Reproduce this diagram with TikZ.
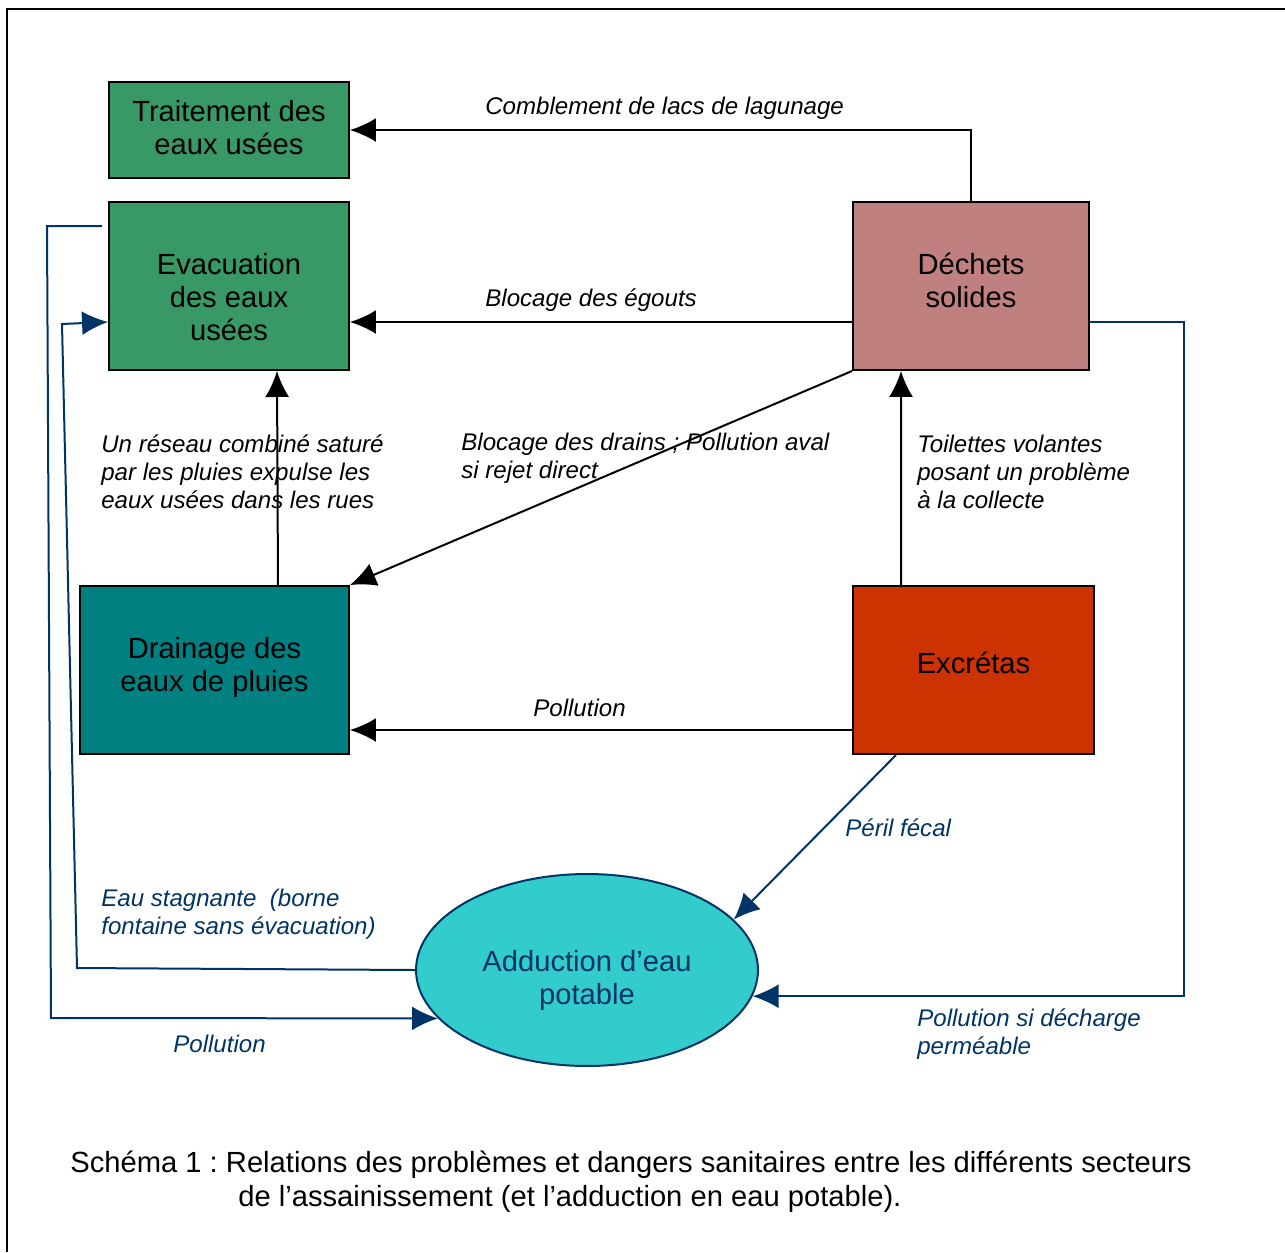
\documentclass[tikz,border=0pt]{standalone}
\usepackage{fontspec}
\setmainfont{Liberation Sans}
\usepackage{xcolor}
\usepackage{tikz}
\usetikzlibrary{shapes,arrows,arrows.meta}
\frenchspacing

\definecolor{vert}{HTML}{389966}
\definecolor{rose}{HTML}{C08080}
\definecolor{sarcelle}{HTML}{008080}
\definecolor{brique}{HTML}{CC3300}
\definecolor{turquoise}{HTML}{33CCCC}
\definecolor{bleu}{HTML}{003366}
\newcommand{\boxfont}{\fontsize{16.6}{18.8}\selectfont}
\newcommand{\lblfont}{\fontsize{13.7}{15.9}\selectfont\itshape}

\begin{document}
\begin{tikzpicture}[x=0.02cm, y=-0.02cm,
  textbox/.style={draw, line width=0.04cm, font=\boxfont, align=center, inner sep=0},
  lbl/.style={font=\lblfont, align=left, anchor=west, inner sep=0},
  arr/.style={-{Latex[length=0.52cm,width=0.48cm]}, line width=0.04cm},
  barr/.style={arr, draw=bleu}]
\useasboundingbox (0,0) rectangle (1285,1252);
\draw[line width=0.04cm] (1285,9) -- (7,9) -- (7,1252);
%boxes
\node[textbox, fill=vert, minimum width=4.8cm, minimum height=1.92cm, text depth=0.12cm] (trait) at (229,130) {Traitement des\\eaux usées};
\node[textbox, fill=vert, minimum width=4.8cm, minimum height=3.36cm, text height=62pt, text depth=0pt] (evac) at (229,286) {Evacuation\\des eaux\\usées};
\node[textbox, fill=rose, minimum width=4.72cm, minimum height=3.36cm, text depth=0.24cm] (dech) at (971,286) {Déchets\\solides};
\node[textbox, fill=sarcelle, minimum width=5.38cm, minimum height=3.36cm, text depth=0.24cm] (drain) at (214.5,670) {Drainage des\\eaux de pluies};
\node[textbox, fill=brique, minimum width=4.82cm, minimum height=3.36cm, text depth=0.28cm] (excr) at (973.5,670) {Excrétas};
\node[textbox, ellipse, draw=bleu, text=bleu, fill=turquoise, minimum width=6.84cm, minimum height=3.84cm, text height=38.8pt, text depth=0pt] (add) at (587,970) {Adduction d’eau\\potable};
%black arrows
\draw [arr] (dech.north) |- (trait.east);
\draw [arr] ([yshift=-0.72cm]dech.west) -- ([yshift=-0.72cm]evac.east);
\draw [arr] ([xshift=-1.44cm]drain.north east) -- ([xshift=0.96cm]evac.south);
\draw [arr] (dech.south west) -- (drain.north east);
\draw [arr] ([xshift=0.98cm]excr.north west) -- ([xshift=0.98cm]dech.south west);
\draw [arr] ([yshift=-1.2cm]excr.west) -- ([yshift=-1.2cm]drain.east);
%blue arrows
\draw [barr] ([xshift=0.88cm]excr.south west) -- (add.19);
\draw [barr] ([yshift=-0.72cm]dech.east) -- ++(94,0) |- (add.-9);
\draw [barr] (add.west) -- (77,968) -- (62,324) -- ([yshift=-0.72cm]evac.west);
\draw [barr] ([xshift=-0.12cm,yshift=1.2cm]evac.west) -- (47,226) -- (51,1018) -- (add.198);
%labels
\node[lbl] (l1) at (485,108) {Comblement de lacs de lagunage};
\node[lbl] (l2) at (485,300) {Blocage des égouts};
\node[lbl] (l3) at (101,472) {Un réseau combiné saturé\\par les pluies expulse les\\eaux usées dans les rues};
\node[lbl] (l4) at (461,458) {Blocage des drains ; Pollution aval\\si rejet direct};
\node[lbl] (l5) at (917,472) {Toilettes volantes\\posant un problème\\à la collecte};
\node[lbl] (l6) at (533,708) {Pollution};
\node[lbl, text=bleu] (l7) at (845,828) {Péril fécal};
\node[lbl, text=bleu] (l8) at (101,914) {Eau stagnante\ \ (borne\\fontaine sans évacuation)};
\node[lbl, text=bleu] (l9) at (917,1034) {Pollution si décharge\\perméable};
\node[lbl, text=bleu] (l10) at (173,1044) {Pollution};
%caption
\node[font=\boxfont, anchor=west, inner sep=0] (cap1) at (70,1165) {Schéma 1 : Relations des problèmes et dangers sanitaires entre les différents secteurs};
\node[font=\boxfont, anchor=west, inner sep=0] (cap2) at (238,1199) {de l’assainissement (et l’adduction en eau potable).};
\end{tikzpicture}
\end{document}
